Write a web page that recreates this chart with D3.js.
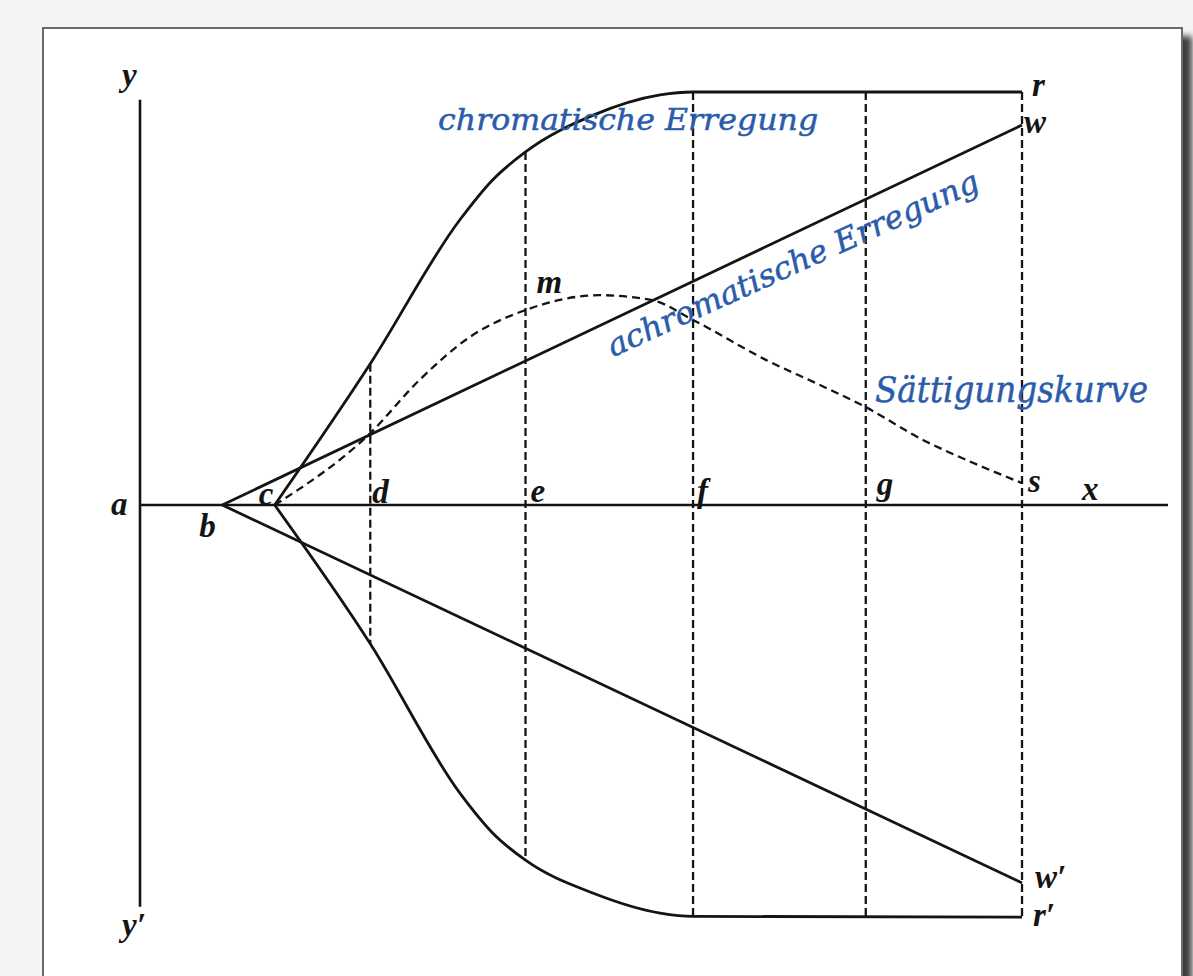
<!DOCTYPE html>
<html>
<head>
<meta charset="utf-8">
<script src="https://d3js.org/d3.v7.min.js"></script>
<style>
  body { margin: 0; background: #f4f4f4; overflow: hidden; }
  svg { display: block; }
</style>
</head>
<body>
<div id="figure"></div>
<script>
// stations on the abscissa
const stationNames = ["a", "b", "c", "d", "e", "f", "g", "s"];
const stationX = [0, 8.0, 13.1, 22.4, 37.5, 53.8, 70.6, 85.8];
const axisEndX = 100;
const yAxisTop = 98.1, yAxisBottom = -97.3;

// chromatische Erregung (upper and lower branch)
const chromUpperX = [13.1, 22.4, 31.1, 34.3, 37.5, 44.1, 50.6, 53.8, 85.8];
const chromUpperY = [0, 34.2, 69.0, 78.7, 85.5, 94.4, 99.3, 100, 100];
const chromLowerX = [13.1, 22.4, 31.1, 34.3, 37.5, 44.1, 50.6, 53.8, 85.8];
const chromLowerY = [0, -33.6, -69.7, -79.4, -86.0, -94.0, -98.8, -99.6, -99.8];

// achromatische Erregung (straight lines from b to w and w')
const achroX = [8.0, 85.8];
const achroUpperY = [0, 92.0];
const achroLowerY = [0, -91.5];

// Sättigungskurve
const satX = [13.1, 22.4, 27.2, 32.1, 37.5, 44.7, 49.8, 53.8, 61.0, 66.1, 70.6, 76.2, 80.4, 85.8];
const satY = [0, 17.4, 30.3, 40.7, 47.2, 50.8, 49.6, 44.8, 35.0, 29.1, 23.7, 15.7, 10.9, 5.3];

// dashed ordinates
const ordNames = ["d", "e", "f", "g", "s"];
const ordTop = [34.2, 85.5, 100, 100, 100];
const ordBottom = [-33.6, -86.0, -99.6, -99.7, -99.8];

// set the dimensions of the page
const width = 1193, height = 976;

const svg = d3.select("#figure")
  .append("svg")
  .attr("width", width)
  .attr("height", height);

// drop shadow for the paper
const defs = svg.append("defs");
const shadow = defs.append("filter")
  .attr("id", "shadow")
  .attr("x", "-5%").attr("y", "-5%")
  .attr("width", "115%").attr("height", "115%");
shadow.append("feDropShadow")
  .attr("dx", 9).attr("dy", 9)
  .attr("stdDeviation", 3)
  .attr("flood-color", "#000")
  .attr("flood-opacity", 0.75);

svg.append("rect")
  .attr("x", 43).attr("y", 28)
  .attr("width", 1139).attr("height", 1040)
  .attr("fill", "#fff")
  .attr("stroke", "#6a6a6a")
  .attr("stroke-width", 2)
  .attr("filter", "url(#shadow)");

// scales
const x = d3.scaleLinear().domain([0, 100]).range([140, 1168]);
const y = d3.scaleLinear().domain([-100, 100]).range([918, 92]);

const ink = "#141414";
const zip = (xs, ys) => xs.map((v, i) => [v, ys[i]]);

const smooth = d3.line()
  .x(d => x(d[0]))
  .y(d => y(d[1]))
  .curve(d3.curveMonotoneX);
const straight = d3.line()
  .x(d => x(d[0]))
  .y(d => y(d[1]));

const g = svg.append("g");

// dashed ordinates at d, e, f, g, s
g.selectAll("line.ord")
  .data(ordNames)
  .join("line")
    .attr("class", "ord")
    .attr("x1", d => x(stationX[stationNames.indexOf(d)]))
    .attr("x2", d => x(stationX[stationNames.indexOf(d)]))
    .attr("y1", (d, i) => y(ordTop[i]))
    .attr("y2", (d, i) => y(ordBottom[i]))
    .attr("stroke", ink)
    .attr("stroke-width", 2.3)
    .attr("stroke-dasharray", "8,4");

// axes
g.append("line")
  .attr("x1", x(0)).attr("x2", x(axisEndX))
  .attr("y1", y(0)).attr("y2", y(0))
  .attr("stroke", ink)
  .attr("stroke-width", 2.3);
g.append("line")
  .attr("x1", x(0)).attr("x2", x(0))
  .attr("y1", y(yAxisTop)).attr("y2", y(yAxisBottom))
  .attr("stroke", ink)
  .attr("stroke-width", 2.6);

// achromatic lines
[achroUpperY, achroLowerY].forEach(ys => {
  g.append("path")
    .attr("d", straight(zip(achroX, ys)))
    .attr("fill", "none")
    .attr("stroke", ink)
    .attr("stroke-width", 2.8);
});

// chromatic curves
[zip(chromUpperX, chromUpperY), zip(chromLowerX, chromLowerY)].forEach(pts => {
  g.append("path")
    .attr("d", smooth(pts))
    .attr("fill", "none")
    .attr("stroke", ink)
    .attr("stroke-width", 2.8)
    .attr("stroke-linejoin", "round");
});

// saturation curve
g.append("path")
  .attr("d", smooth(zip(satX, satY)))
  .attr("fill", "none")
  .attr("stroke", ink)
  .attr("stroke-width", 2.3)
  .attr("stroke-dasharray", "8,5");

// letter labels: [text, data x, data y, dx, dy]
const letterLabels = [
  ["y", 0, yAxisTop, -18, -14],
  ["y\u2032", 0, yAxisBottom, -18, 29],
  ["a", stationX[0], 0, -29, 10],
  ["b", stationX[1], 0, -23, 32],
  ["c", stationX[2], 0, -16, 0],
  ["d", stationX[3], 0, 2, -2],
  ["e", stationX[4], 0, 5, -3],
  ["f", stationX[5], 0, 4, -3],
  ["g", stationX[6], 0, 11, -10],
  ["s", stationX[7], 0, 6, -13],
  ["x", axisEndX, 0, -86, -5],
  ["r", chromUpperX[8], chromUpperY[8], 10, 4],
  ["w", achroX[1], achroUpperY[1], 2, 8],
  ["w\u2032", achroX[1], achroLowerY[1], 13, 5],
  ["r\u2032", chromLowerX[8], chromLowerY[8], 11, 9],
  ["m", satX[5], satY[5], -63, -2]
];

g.selectAll("text.letter")
  .data(letterLabels)
  .join("text")
    .attr("class", "letter")
    .attr("x", d => x(d[1]) + d[3])
    .attr("y", d => y(d[2]) + d[4])
    .attr("font-family", "'Liberation Serif', serif")
    .attr("font-style", "italic")
    .attr("font-weight", "bold")
    .attr("font-size", "33px")
    .attr("fill", ink)
    .text(d => d[0]);

// blue captions
const blue = "#2a5caa";
const captionFont = "'DejaVu Serif', serif";

const caption = (sel, size, len) => sel
  .attr("font-family", captionFont)
  .attr("font-style", "italic")
  .attr("font-size", size + "px")
  .attr("fill", blue)
  .attr("stroke", blue)
  .attr("stroke-width", 0.5)
  .attr("textLength", len)
  .attr("lengthAdjust", "spacingAndGlyphs");

g.append("text")
  .attr("x", x(29.0))
  .attr("y", y(90.8))
  .call(caption, 30, 380)
  .text("chromatische Erregung");

g.append("text")
  .attr("transform", `translate(${x(46.0)}, ${y(35.8)}) rotate(-24.5)`)
  .call(caption, 31, 405)
  .text("achromatische Erregung");

g.append("text")
  .attr("x", x(71.5))
  .attr("y", y(24.9))
  .call(caption, 35, 273)
  .text("Sättigungskurve");
</script>
</body>
</html>
